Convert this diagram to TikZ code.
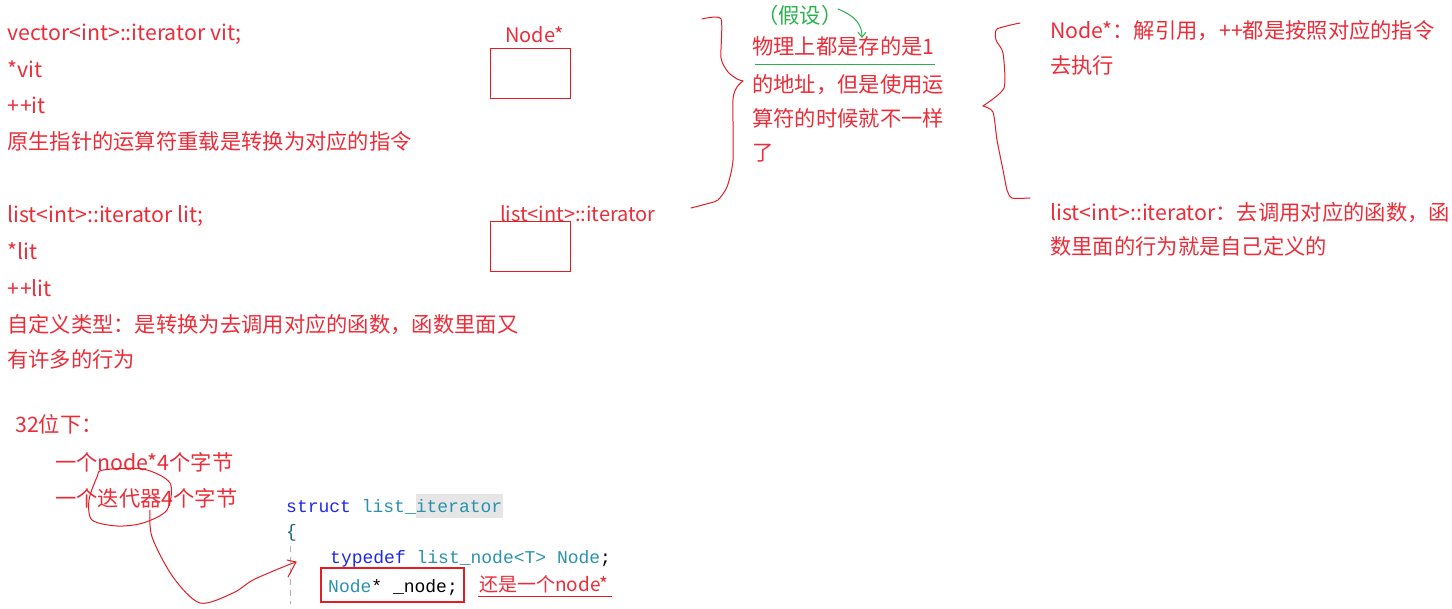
\documentclass[tikz,border=0pt]{standalone}
\usepackage{fontspec}
\setmainfont{Noto Sans CJK SC}
\newfontfamily\codefont{Liberation Mono}
\usetikzlibrary{arrows.meta}
\definecolor{annred}{RGB}{236,44,56}
\definecolor{linered}{RGB}{228,28,36}
\definecolor{anngreen}{RGB}{44,176,76}
\definecolor{kwblue}{RGB}{30,40,235}
\definecolor{tyteal}{RGB}{43,145,175}
\definecolor{hlgray}{RGB}{230,230,230}
\begin{document}
\begin{tikzpicture}[x=1pt,y=-1pt,
  txt/.style={anchor=base west, inner sep=0pt, text=annred, font=\fontsize{21.3}{25}\selectfont},
  gtxt/.style={txt, text=anngreen},
  code/.style={anchor=base west, inner sep=0pt, font=\codefont\fontsize{18}{22}\selectfont},
  ptrbox/.style={draw=linered, line width=1pt},
  pen/.style={draw=linered, line width=1pt, line join=round, line cap=round},
  gpen/.style={draw=anngreen, line width=1pt, line join=round, line cap=round}]
\useasboundingbox (0,0) rectangle (1452,609);

% left column, vector
\node[txt] (v1) at (7,41) {vector<int>::iterator vit;};
\node[txt] (v2) at (7,78) {*vit};
\node[txt] (v3) at (7,114) {+\kern1pt+it};
\node[txt] (v4) at (7,150) {原生指针的运算符重载是转换为对应的指令};
% left column, list
\node[txt] (l1) at (7,223) {list<int>::iterator lit;};
\node[txt] (l2) at (7,260) {*lit};
\node[txt] (l3) at (7,297) {+\kern1pt+lit};
\node[txt] (l4) at (7,333) {自定义类型：是转换为去调用对应的函数，函数里面又};
\node[txt] (l5) at (7,368) {有许多的行为};
% 32-bit
\node[txt] (b1) at (15,433) {32位下：};
\node[txt] (b2) at (55,471) {一个node*4个字节};
\node[txt] (b3) at (55,507) {一个迭代器4个字节};

% boxes
\node[txt, font=\fontsize{20}{24}\selectfont] (nl) at (505,43) {Node*};
\draw[ptrbox] (490,49) rectangle (570,99);
\node[txt, font=\fontsize{20}{24}\selectfont] (ll) at (500,222) {list<int>::iterator};
\draw[ptrbox] (490,222) rectangle (570,272);

% middle brace
\draw[pen] plot[smooth, tension=0.4] coordinates {(702,19) (721,19) (721,58) (728,72) (737,79) (743,81)};
\draw[pen] plot[smooth, tension=0.4] coordinates {(743,81) (737,87) (733,100) (733,160) (727,187) (718,200) (710,203) (691,208)};

% middle text
\node[gtxt] (assume) at (757,24) {（假设）};
\node[txt] (m1) at (752,55) {物理上都是存的是1};
\draw[anngreen, line width=0.8pt] (755,64) -- (935,64);
\node[txt] (m2) at (752,93) {的地址，但是使用运};
\node[txt] (m3) at (752,127) {算符的时候就不一样};
\node[txt] (m4) at (752,161) {了};
\coordinate (ga) at (838,9);
\coordinate (gb) at (862,38);
\draw[gpen, -{Straight Barb[length=5pt,width=8pt]}] (ga) .. controls (855,16) and (862,24) .. (gb);

% right brace
\draw[pen] plot[smooth, tension=0.4] coordinates {(1020,23) (997,29) (996,40) (1003,53) (1004,88) (983,106)};
\draw[pen] plot[smooth, tension=0.4] coordinates {(983,106) (993,112) (997,140) (1003,170) (1007,190) (1012,198) (1030,198)};

% right text
\node[txt] (r1) at (1050,39) {Node*：解引用，++都是按照对应的指令};
\node[txt] (r2) at (1050,74) {去执行};
\node[txt] (r3) at (1050,221) {list<int>::iterator：去调用对应的函数，函};
\node[txt] (r4) at (1050,255) {数里面的行为就是自己定义的};

% code
\fill[hlgray] (416,494) rectangle (503,518);
\node[code] (c1) at (286,512) {\textcolor{kwblue}{struct}\ \textcolor{tyteal}{list\_iterator}};
\node[code, text=tyteal!70!black] (c2) at (286,537) {\{};
\draw[gray!60, line width=1pt, dash pattern=on 6pt off 5pt] (290,546) -- (290,604);
\node[code] (c3) at (330,563) {\textcolor{kwblue}{typedef}\ \textcolor{tyteal}{list\_node<T>\ Node};};
\node[code] (c4) at (328,592) {\textcolor{tyteal}{Node}*\ \_node;};
\draw[linered, line width=1.5pt] (321,568) rectangle (464,602);
\node[txt, font=\fontsize{19}{23}\selectfont] (note) at (479,591) {还是一个node*};
\draw[linered, line width=0.8pt] (478,596) -- (612,596);

% circle and arrow
\draw[pen] plot[smooth cycle, tension=0.5] coordinates {(103,470) (143,469) (170,483) (167,510) (143,523) (117,526) (92,520) (89,500) (97,477)};
\coordinate (cs) at (150,510);
\coordinate (ce) at (296,562);
\draw[pen] plot[smooth, tension=0.5] coordinates {(cs) (152,537) (173,577) (200,603) (233,593) (253,580) (283,567) (ce)};
\draw[pen] (287,560) -- (ce) -- (288,577);
\end{tikzpicture}
\end{document}
